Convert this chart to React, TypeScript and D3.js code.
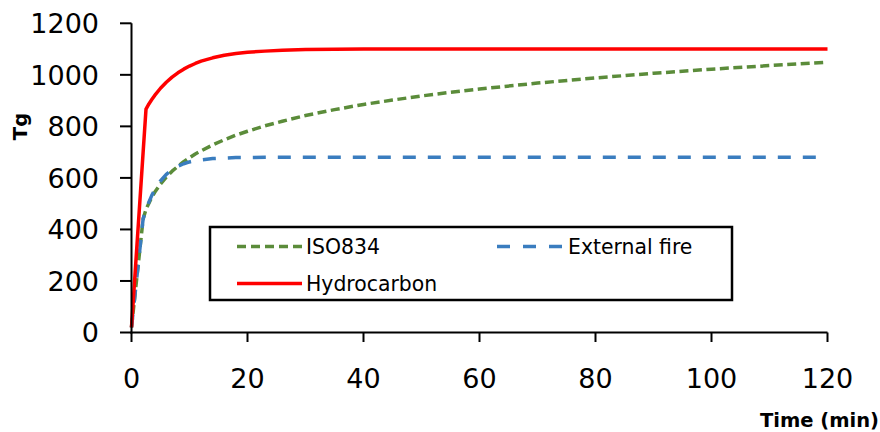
import React from "react";
import * as d3 from "d3";

const minutes = [0, 2, 2.5, 3, 3.5, 4, 5, 6, 7, 8, 9, 10, 11, 12, 14, 16, 18, 20, 23, 26, 30, 35, 40, 45, 50, 55, 60, 70, 80, 90, 100, 110, 120];
const iso834 = [20, 440, 478, 502, 525, 544, 576, 603, 626, 645, 663, 678, 693, 705, 728, 748, 766, 781, 802, 820, 842, 865, 885, 902, 918, 932, 945, 968, 988, 1006, 1022, 1036, 1049];
const externalFire = [20, 441, 476, 506, 532, 554, 588, 614, 632, 645, 655, 662, 667, 670, 675, 677, 679, 679, 680, 680, 680, 680, 680, 680, 680, 680, 680, 680, 680, 680, 680, 680, 680];
const hydrocarbon = [20, 698, 867, 887, 904, 920, 948, 971, 991, 1008, 1022, 1034, 1044, 1053, 1066, 1076, 1083, 1088, 1092, 1095, 1098, 1099, 1100, 1100, 1100, 1100, 1100, 1100, 1100, 1100, 1100, 1100, 1100];

const xTicks = [0, 20, 40, 60, 80, 100, 120];
const yTicks = [0, 200, 400, 600, 800, 1000, 1200];

const seriesNames = ["ISO834", "External fire", "Hydrocarbon"];

const FONT = "'DejaVu Sans', sans-serif";

export default function App() {
  const W = 880;
  const H = 432;
  const x = d3.scaleLinear().domain([0, 120]).range([131.5, 827.5]);
  const y = d3.scaleLinear().domain([0, 1200]).range([332.5, 23.3]);

  const line = d3
    .line<number>()
    .x((_, i) => x(minutes[i]))
    .y((d) => y(d))
    .curve(d3.curveLinear);

  const series = [
    { name: seriesNames[0], values: iso834, color: "#5B8C3A", dash: "9,4.5" },
    { name: seriesNames[1], values: externalFire, color: "#3A7DBF", dash: "13,12" },
    { name: seriesNames[2], values: hydrocarbon, color: "#FF0000", dash: "none" },
  ];

  const x0 = x(0);
  const yBase = y(0);

  return (
    <svg
      width={W}
      height={H}
      style={{ position: "absolute", left: 0, top: 0, background: "#fff" }}
      fontFamily={FONT}
    >
      <rect x={0} y={0} width={W} height={H} fill="#fff" />

      {/* series */}
      {series.map((s) => (
        <path
          key={s.name}
          d={line(s.values) || ""}
          fill="none"
          stroke={s.color}
          strokeWidth={3.5}
          strokeDasharray={s.dash}
          strokeLinejoin="round"
        />
      ))}

      {/* y axis */}
      <line x1={x0} x2={x0} y1={y(1200)} y2={yBase + 1} stroke="#000" strokeWidth={2} />
      {yTicks.map((t) => (
        <g key={"y" + t}>
          <line x1={120} x2={x0} y1={y(t)} y2={y(t)} stroke="#000" strokeWidth={2} />
          <text x={99} y={y(t) + 9.8} textAnchor="end" fontSize={27} fill="#000">
            {t}
          </text>
        </g>
      ))}

      {/* x axis */}
      <line x1={x0 - 1} x2={x(120)} y1={yBase} y2={yBase} stroke="#000" strokeWidth={2} />
      {xTicks.map((t) => (
        <g key={"x" + t}>
          <line x1={x(t)} x2={x(t)} y1={yBase} y2={342} stroke="#000" strokeWidth={2} />
          <text x={x(t)} y={388} textAnchor="middle" fontSize={27} fill="#000">
            {t}
          </text>
        </g>
      ))}

      {/* axis titles */}
      <text x={879} y={427} textAnchor="end" fontSize={19.5} fontWeight="bold" fill="#000">
        Time (min)
      </text>
      <text
        transform="translate(26.5,126.5) rotate(-90)"
        textAnchor="middle"
        fontSize={19.5}
        fontWeight="bold"
        fill="#000"
      >
        Tg
      </text>

      {/* legend */}
      <rect x={210} y={227} width={522} height={73} fill="#fff" stroke="#000" strokeWidth={2.5} />
      <line x1={237} x2={302} y1={246.5} y2={246.5} stroke={series[0].color} strokeWidth={3.5} strokeDasharray="9,5" />
      <text x={306} y={254} fontSize={20.4} fill="#000">{series[0].name}</text>
      <line x1={497} x2={562} y1={246.5} y2={246.5} stroke={series[1].color} strokeWidth={3.5} strokeDasharray="13,13" />
      <text x={568} y={254} fontSize={20.4} fill="#000">{series[1].name}</text>
      <line x1={237} x2={302} y1={283.5} y2={283.5} stroke={series[2].color} strokeWidth={3.5} />
      <text x={306} y={291} fontSize={20.4} fill="#000">{series[2].name}</text>
    </svg>
  );
}
